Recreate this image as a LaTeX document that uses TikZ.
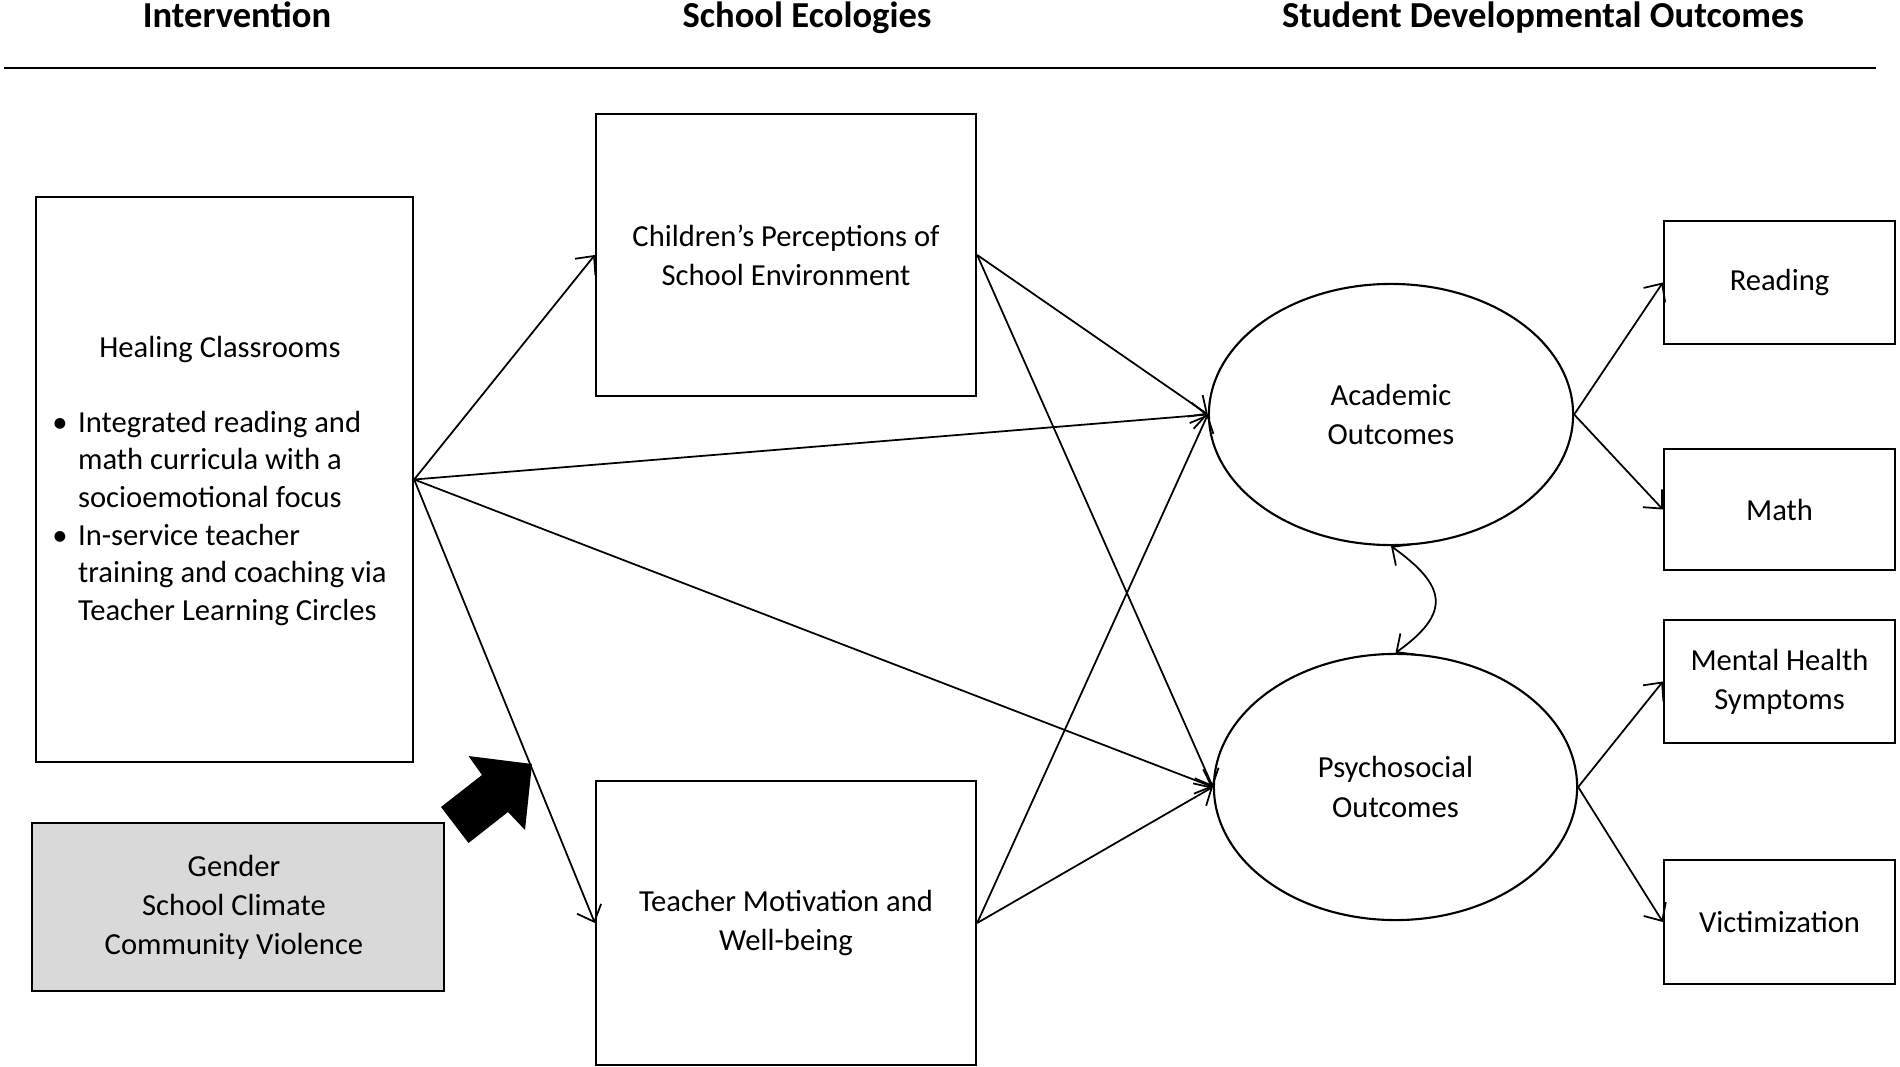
\documentclass[tikz,border=0pt]{standalone}
\usepackage{fontspec}
\setmainfont{Carlito}
\usetikzlibrary{shapes.geometric,arrows.meta}
\definecolor{boxgray}{HTML}{D9D9D9}
\begin{document}
\begin{tikzpicture}[x=0.01cm,y=-0.01cm,
  box/.style={draw, line width=0.6pt, inner sep=0pt, align=center, font=\fontsize{8.7}{11.1}\selectfont},
  oval/.style={ellipse, draw, line width=0.6pt, inner sep=0pt, align=center, font=\fontsize{8.7}{11.1}\selectfont},
  arr/.style={line width=0.5pt, -{Straight Barb[length=1.4mm,width=2.6mm]}},
  darr/.style={line width=0.5pt, {Straight Barb[length=1.4mm,width=2.6mm]}-{Straight Barb[length=1.4mm,width=2.6mm]}},
  hdr/.style={font=\fontsize{10.4}{12}\selectfont\bfseries, anchor=base, inner sep=0pt}
]
\useasboundingbox (0,0) rectangle (1900,1067);

% headers
\node[hdr] (h1) at (237,28) {Intervention};
\node[hdr] (h2) at (807,28) {School Ecologies};
\node[hdr] (h3) at (1543,28) {Student Developmental Outcomes};
\draw[line width=0.8pt] (4,68) -- (1876,68);

% boxes
\node[box, font=\fontsize{8.7}{10.7}\selectfont, minimum width=3.77cm, minimum height=5.65cm] (heal) at (224.5,479.5)
 {\rule{0pt}{8.5pt}\hspace*{-0.09cm}Healing Classrooms\\[\baselineskip]
  \hspace*{-0.1cm}\begin{tabular}[t]{@{}l@{\hspace{3pt}}l@{}}
  \textbullet & Integrated reading and\\
   & math curricula with a\\
   & socioemotional focus\\
  \textbullet & In-service teacher\\
   & training and coaching via\\
   & Teacher Learning Circles
  \end{tabular}};
\node[box, fill=boxgray, minimum width=4.12cm, minimum height=1.68cm] (gen) at (238,907)
 {\hspace*{-0.08cm}Gender\\\hspace*{-0.08cm}School Climate\\\hspace*{-0.08cm}Community Violence};
\node[box, minimum width=3.80cm, minimum height=2.82cm] (child) at (786,255)
 {Children’s Perceptions of\\School Environment};
\node[box, minimum width=3.80cm, minimum height=2.84cm] (teach) at (786,923)
 {Teacher Motivation and\\Well-being};
\node[oval, minimum width=3.64cm, minimum height=2.61cm] (acad) at (1391,414.5)
 {Academic\\Outcomes};
\node[oval, minimum width=3.63cm, minimum height=2.66cm] (psych) at (1395.5,787)
 {Psychosocial\\Outcomes};
\node[box, minimum width=2.31cm, minimum height=1.23cm] (read) at (1779.5,282.5) {Reading};
\node[box, minimum width=2.31cm, minimum height=1.21cm] (math) at (1779.5,509.5) {Math};
\node[box, minimum width=2.31cm, minimum height=1.23cm] (mental) at (1779.5,681.5) {Mental Health\\Symptoms};
\node[box, minimum width=2.31cm, minimum height=1.24cm] (vict) at (1779.5,922) {Victimization};

% block arrow (moderators)
\fill[black] (441,807) -- (482,775) -- (468.5,756) -- (532,764) -- (525,830) -- (508,812) -- (468.5,843) -- cycle;

% connectors
\draw[arr] (heal.east) -- (child.west);
\draw[arr] (heal.east) -- (acad.west);
\draw[arr] (heal.east) -- (psych.west);
\draw[arr] (heal.east) -- (teach.west);
\draw[arr] (child.east) -- (acad.west);
\draw[arr] (child.east) -- (psych.west);
\draw[arr] (teach.east) -- (acad.west);
\draw[arr] (teach.east) -- (psych.west);
\draw[arr] (acad.east) -- (read.west);
\draw[arr] (acad.east) -- (math.west);
\draw[arr] (psych.east) -- (mental.west);
\draw[arr] (psych.east) -- (vict.west);
\draw[darr] (psych.north) .. controls +(56,-40) and +(56,40) .. (acad.south);
\end{tikzpicture}
\end{document}
